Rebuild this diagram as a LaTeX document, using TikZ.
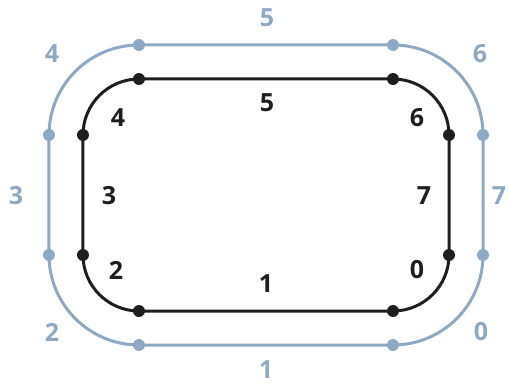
\documentclass[tikz,border=0pt]{standalone}
\usepackage{fontspec}
\setmainfont{Open Sans}
\definecolor{loopout}{HTML}{8DA9C4}
\definecolor{loopin}{HTML}{1E1E1E}
\tikzset{
  dot/.style={circle, fill, inner sep=0pt, minimum size=12pt},
  num/.style={font=\fontsize{25}{28}\selectfont\bfseries},
}

\begin{document}
\begin{tikzpicture}[x=1pt,y=1pt]
  \useasboundingbox (-266,-191) rectangle (243,195);

  % outer loop
  \begin{scope}[loopout, line width=3pt]
    \coordinate (o01) at (127,-150);
    \coordinate (o12) at (-127,-150);
    \coordinate (o23) at (-217,-60);
    \coordinate (o34) at (-217,60);
    \coordinate (o45) at (-127,150);
    \coordinate (o56) at (127,150);
    \coordinate (o67) at (217,60);
    \coordinate (o70) at (217,-60);
    \draw (o01) -- (o12) arc[start angle=270, end angle=180, radius=90]
      -- (o34) arc[start angle=180, end angle=90, radius=90]
      -- (o56) arc[start angle=90, end angle=0, radius=90]
      -- (o70) arc[start angle=0, end angle=-90, radius=90] -- cycle;
    \foreach \p in {o01,o12,o23,o34,o45,o56,o67,o70}
      \node[dot] (d\p) at (\p) {};
    \node[num] (lo0) at (215,-137) {0};
    \node[num] (lo1) at (0,-175) {1};
    \node[num] (lo2) at (-214,-137) {2};
    \node[num] (lo3) at (-250,-1) {3};
    \node[num] (lo4) at (-214,141) {4};
    \node[num] (lo5) at (1,177) {5};
    \node[num] (lo6) at (214,141) {6};
    \node[num] (lo7) at (233,-1) {7};
  \end{scope}

  % inner loop
  \begin{scope}[loopin, line width=3pt]
    \coordinate (i01) at (127,-116);
    \coordinate (i12) at (-127,-116);
    \coordinate (i23) at (-183,-60);
    \coordinate (i34) at (-183,60);
    \coordinate (i45) at (-127,116);
    \coordinate (i56) at (127,116);
    \coordinate (i67) at (183,60);
    \coordinate (i70) at (183,-60);
    \draw (i01) -- (i12) arc[start angle=270, end angle=180, radius=56]
      -- (i34) arc[start angle=180, end angle=90, radius=56]
      -- (i56) arc[start angle=90, end angle=0, radius=56]
      -- (i70) arc[start angle=0, end angle=-90, radius=56] -- cycle;
    \foreach \p in {i01,i12,i23,i34,i45,i56,i67,i70}
      \node[dot] (d\p) at (\p) {};
    \node[num] (li0) at (151,-75) {0};
    \node[num] (li1) at (0,-89) {1};
    \node[num] (li2) at (-150,-75) {2};
    \node[num] (li3) at (-157,-1) {3};
    \node[num] (li4) at (-148,77) {4};
    \node[num] (li5) at (1,92) {5};
    \node[num] (li6) at (151,77) {6};
    \node[num] (li7) at (158,-1) {7};
  \end{scope}
\end{tikzpicture}
\end{document}
